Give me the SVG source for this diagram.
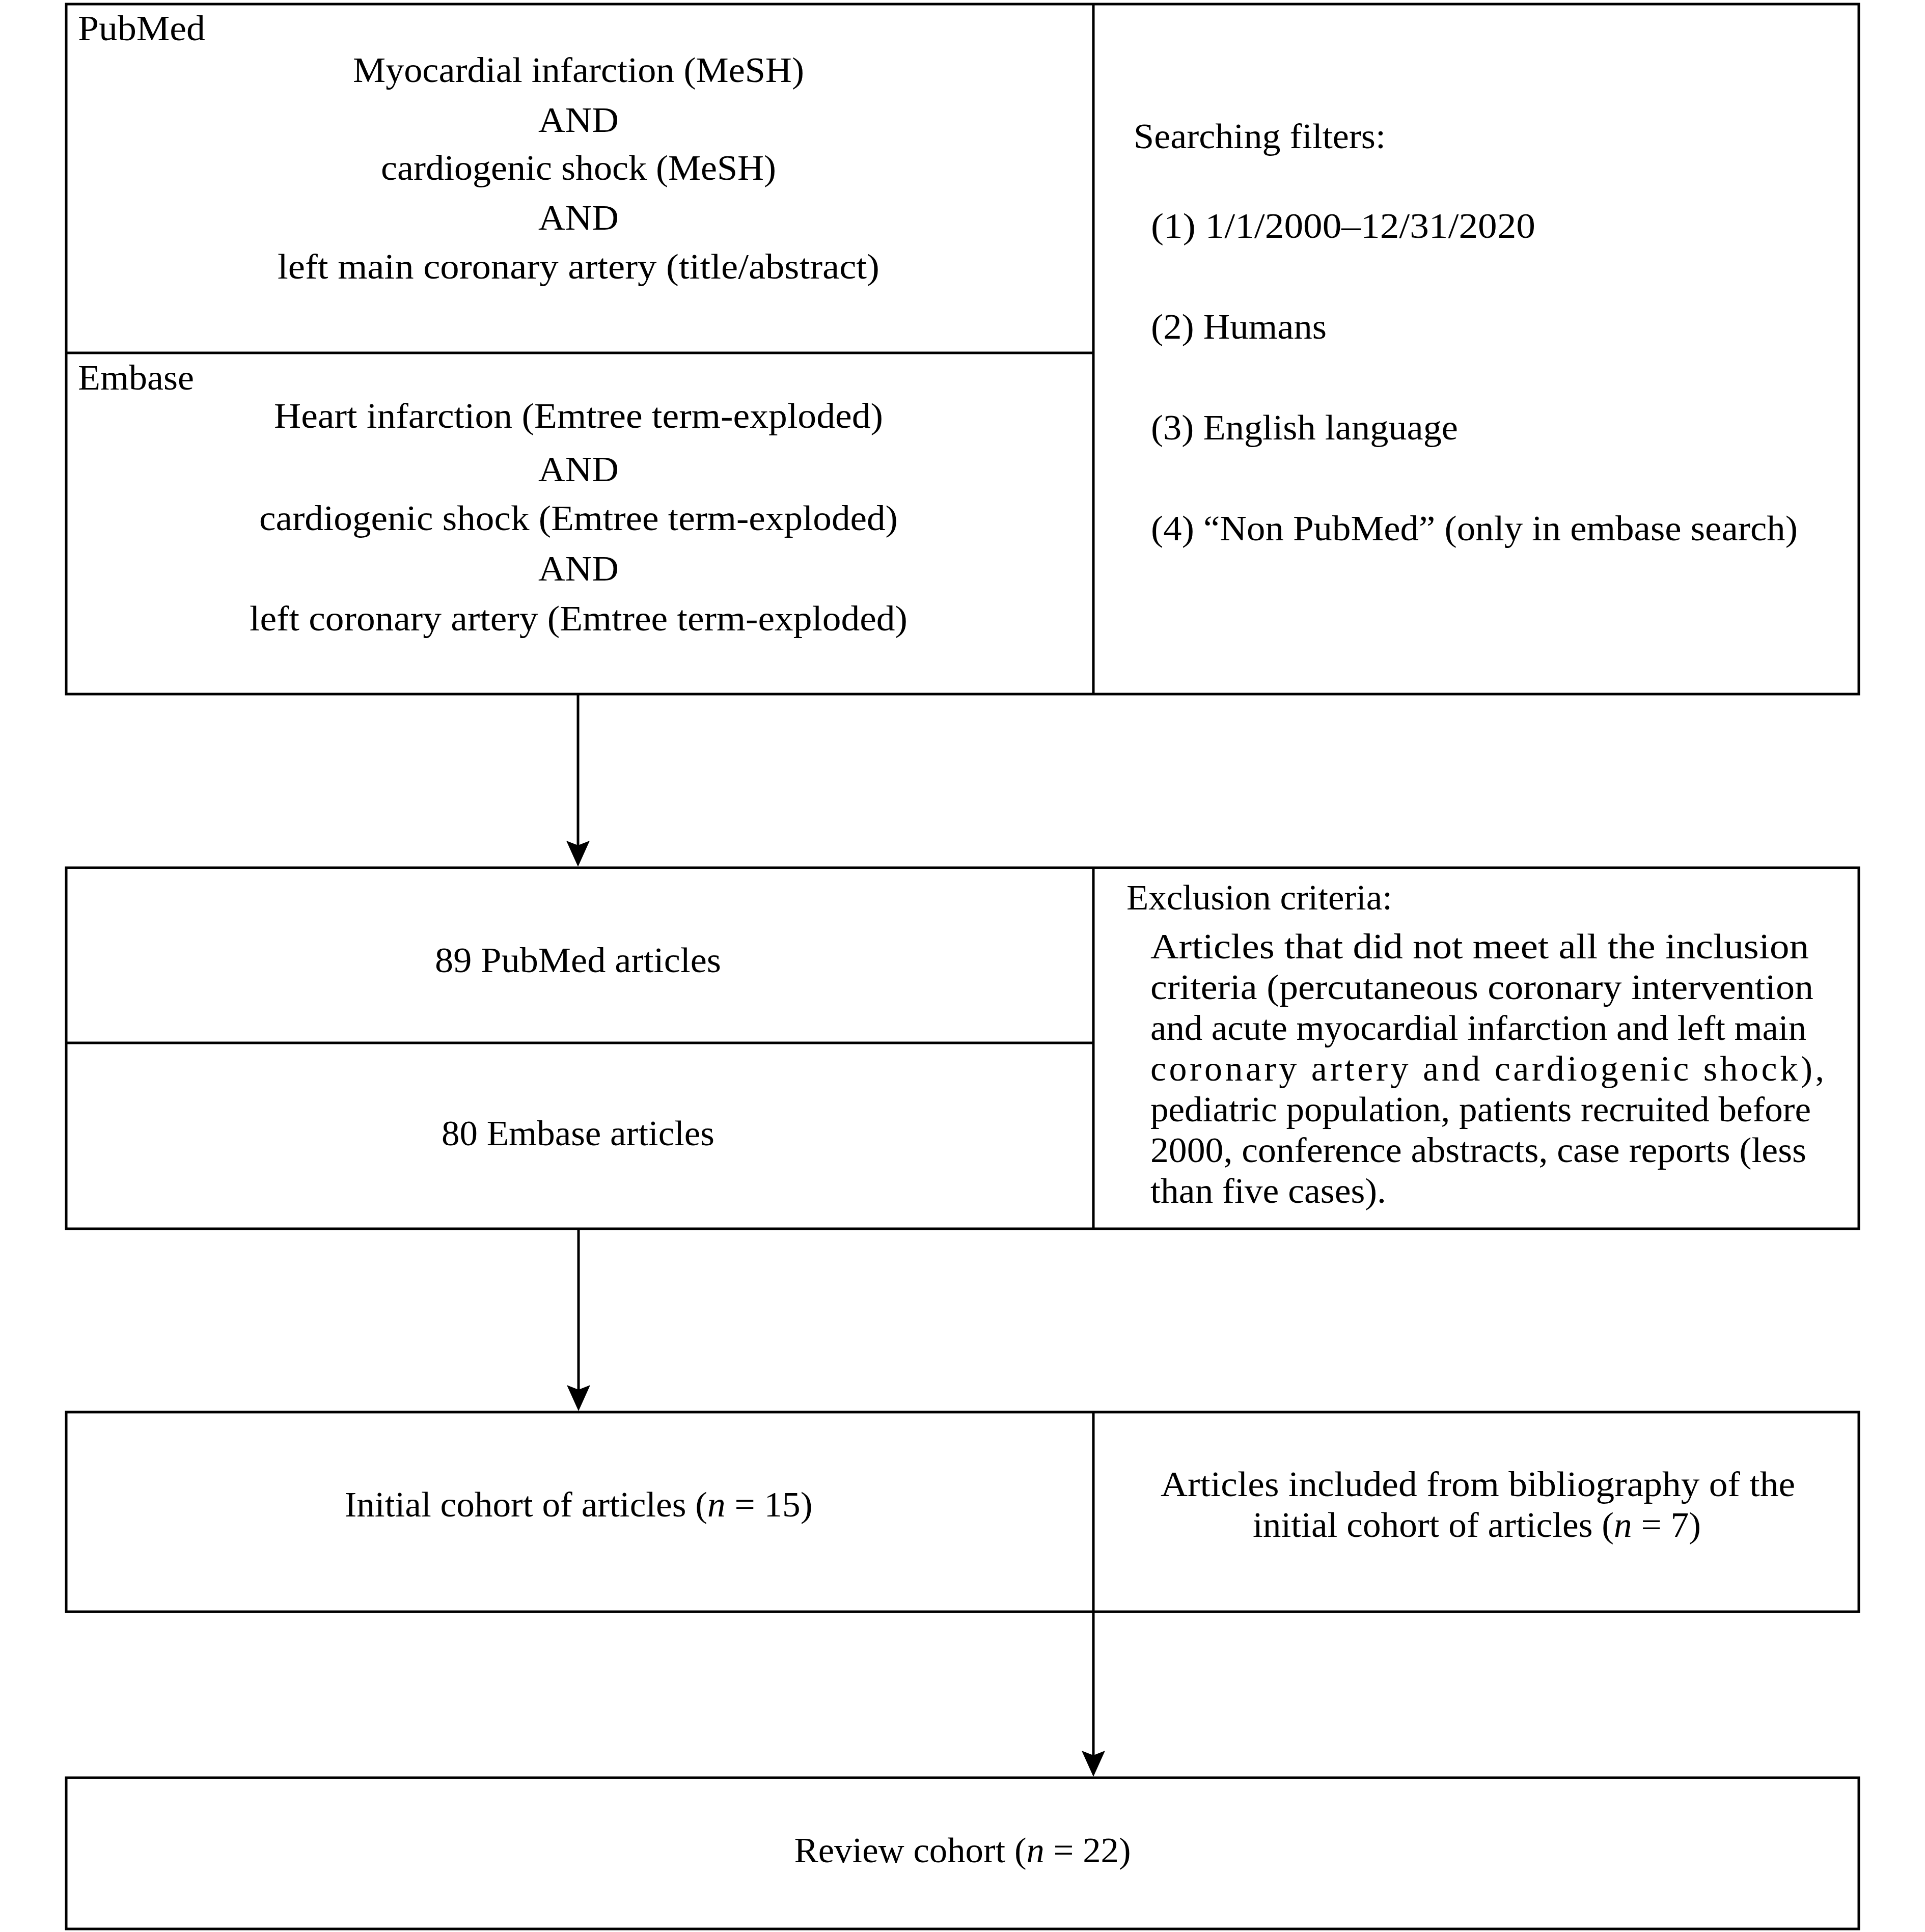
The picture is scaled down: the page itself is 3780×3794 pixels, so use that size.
<svg xmlns="http://www.w3.org/2000/svg" width="3780" height="3794" viewBox="0 0 3780 3794">
<style>
.box{fill:#fff;stroke:#000;stroke-width:5}
.div{stroke:#000;stroke-width:5;fill:none}
.con{stroke:#000;stroke-width:5;fill:none}
.t{font-family:"Liberation Serif","Times New Roman",serif;font-size:70px;fill:#000}
.m{text-anchor:middle}
.i{font-style:italic}
</style>
<defs>
<marker id="ah" viewBox="0 0 52 46" markerWidth="52" markerHeight="46" refX="11" refY="23" orient="auto" markerUnits="userSpaceOnUse">
<path d="M0,0 L51,23 L0,46 L9,23 Z" fill="#000"/>
</marker>
</defs>
<rect width="3780" height="3794" fill="#fff"/>

<g id="search-box">
<rect class="box" x="130" y="8" width="3520" height="1355"/>
<line class="div" x1="2147" y1="8" x2="2147" y2="1363"/>
<line class="div" x1="130" y1="693" x2="2147" y2="693"/>
<text class="t" x="153" y="79" textLength="250" lengthAdjust="spacingAndGlyphs">PubMed</text>
<text class="t m" x="1136" y="161" textLength="886" lengthAdjust="spacingAndGlyphs">Myocardial infarction (MeSH)</text>
<text class="t m" x="1136" y="259" textLength="158" lengthAdjust="spacingAndGlyphs">AND</text>
<text class="t m" x="1136" y="353" textLength="776" lengthAdjust="spacingAndGlyphs">cardiogenic shock (MeSH)</text>
<text class="t m" x="1136" y="451" textLength="158" lengthAdjust="spacingAndGlyphs">AND</text>
<text class="t m" x="1136" y="547" textLength="1182" lengthAdjust="spacingAndGlyphs">left main coronary artery (title/abstract)</text>
<text class="t" x="153" y="765" textLength="228" lengthAdjust="spacingAndGlyphs">Embase</text>
<text class="t m" x="1136" y="840" textLength="1196" lengthAdjust="spacingAndGlyphs">Heart infarction (Emtree term-exploded)</text>
<text class="t m" x="1136" y="945" textLength="158" lengthAdjust="spacingAndGlyphs">AND</text>
<text class="t m" x="1136" y="1041" textLength="1254" lengthAdjust="spacingAndGlyphs">cardiogenic shock (Emtree term-exploded)</text>
<text class="t m" x="1136" y="1140" textLength="158" lengthAdjust="spacingAndGlyphs">AND</text>
<text class="t m" x="1136" y="1238" textLength="1292" lengthAdjust="spacingAndGlyphs">left coronary artery (Emtree term-exploded)</text>
<text class="t" x="2226" y="291" textLength="495" lengthAdjust="spacingAndGlyphs">Searching filters:</text>
<text class="t" x="2260" y="467" textLength="755" lengthAdjust="spacingAndGlyphs">(1) 1/1/2000–12/31/2020</text>
<text class="t" x="2260" y="665" textLength="345" lengthAdjust="spacingAndGlyphs">(2) Humans</text>
<text class="t" x="2260" y="863" textLength="603" lengthAdjust="spacingAndGlyphs">(3) English language</text>
<text class="t" x="2260" y="1061" textLength="1270" lengthAdjust="spacingAndGlyphs">(4) “Non PubMed” (only in embase search)</text>
</g>

<g id="articles-box">
<rect class="box" x="130" y="1704" width="3520" height="709"/>
<line class="div" x1="2147" y1="1704" x2="2147" y2="2413"/>
<line class="div" x1="130" y1="2048" x2="2147" y2="2048"/>
<text class="t m" x="1135" y="1909" textLength="562" lengthAdjust="spacingAndGlyphs">89 PubMed articles</text>
<text class="t m" x="1135" y="2249" textLength="536" lengthAdjust="spacingAndGlyphs">80 Embase articles</text>
<text class="t" x="2212" y="1786" textLength="522" lengthAdjust="spacingAndGlyphs">Exclusion criteria:</text>
<text class="t" x="2259" y="1882" textLength="1293" lengthAdjust="spacingAndGlyphs">Articles that did not meet all the inclusion</text>
<text class="t" x="2259" y="1962" textLength="1302" lengthAdjust="spacingAndGlyphs">criteria (percutaneous coronary intervention</text>
<text class="t" x="2259" y="2042" textLength="1288" lengthAdjust="spacingAndGlyphs">and acute myocardial infarction and left main</text>
<text class="t" x="2259" y="2122" textLength="1323" lengthAdjust="spacing">coronary artery and cardiogenic shock),</text>
<text class="t" x="2259" y="2202" textLength="1297" lengthAdjust="spacingAndGlyphs">pediatric population, patients recruited before</text>
<text class="t" x="2259" y="2282" textLength="1288" lengthAdjust="spacingAndGlyphs">2000, conference abstracts, case reports (less</text>
<text class="t" x="2259" y="2362" textLength="463" lengthAdjust="spacingAndGlyphs">than five cases).</text>
</g>

<g id="cohort-box">
<rect class="box" x="130" y="2773" width="3520" height="392"/>
<line class="div" x1="2147" y1="2773" x2="2147" y2="3165"/>
<text class="t m" x="1136" y="2978" textLength="919" lengthAdjust="spacingAndGlyphs">Initial cohort of articles (<tspan class="i">n</tspan> = 15)</text>
<text class="t m" x="2902" y="2938" textLength="1246" lengthAdjust="spacingAndGlyphs">Articles included from bibliography of the</text>
<text class="t m" x="2900" y="3018" textLength="880" lengthAdjust="spacingAndGlyphs">initial cohort of articles (<tspan class="i">n</tspan> = 7)</text>
</g>

<g id="review-box">
<rect class="box" x="130" y="3491" width="3520" height="297"/>
<text class="t m" x="1890" y="3657" textLength="661" lengthAdjust="spacingAndGlyphs">Review cohort (<tspan class="i">n</tspan> = 22)</text>
</g>

<g id="connectors">
<line class="con" x1="1135" y1="1363" x2="1135" y2="1662" marker-end="url(#ah)"/>
<line class="con" x1="1136" y1="2413" x2="1136" y2="2731" marker-end="url(#ah)"/>
<line class="con" x1="2147" y1="3165" x2="2147" y2="3449" marker-end="url(#ah)"/>
</g>
</svg>
